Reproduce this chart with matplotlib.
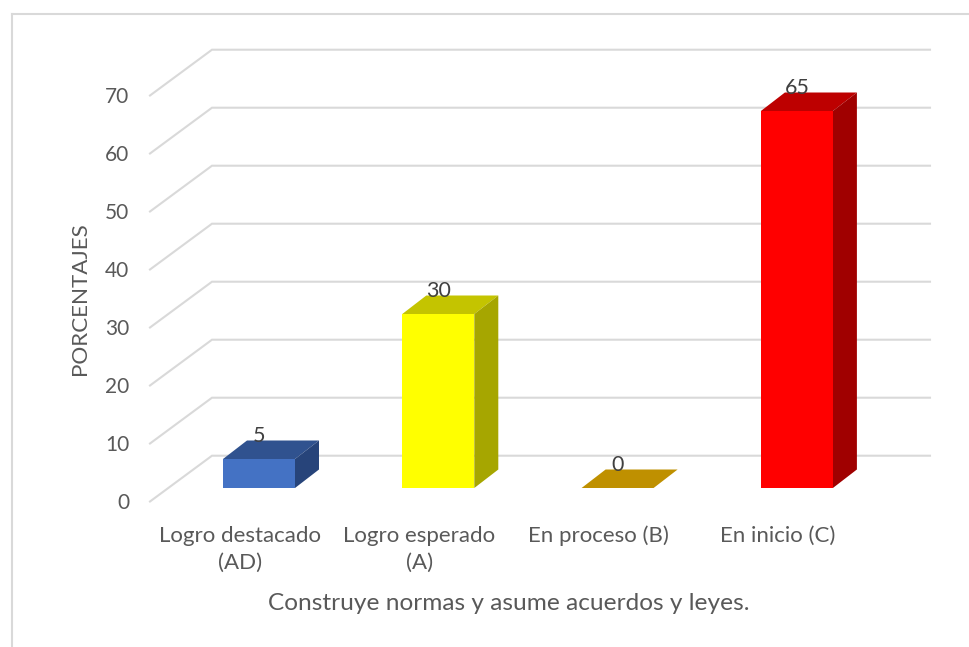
#!/usr/bin/env python3
# -*- coding: utf-8 -*-
import matplotlib
matplotlib.use('Agg')
import matplotlib.pyplot as plt
from matplotlib.lines import Line2D
from matplotlib.patches import Polygon

plt.rcParams['font.family'] = ['Lato', 'DejaVu Sans']

categories = ['Logro destacado\n(AD)', 'Logro esperado\n(A)', 'En proceso (B)', 'En inicio (C)']
values = [5, 30, 0, 65]
front_colors = ['#4472c4', '#ffff00', '#bf9000', '#ff0000']
top_colors = ['#30528f', '#c4c400', '#bf9000', '#bd0000']
side_colors = ['#27447a', '#a6a600', '#bf9000', '#a00000']
yticks = [0, 10, 20, 30, 40, 50, 60, 70]
xlabel = 'Construye normas y asume acuerdos y leyes.'
ylabel = 'PORCENTAJES'

W, H = 969, 647
x_step = 179.3   # px per category
y_step = 5.8     # px per percent
x0_px, y0_px = 259, 488

bar_w = 72 / x_step
dx = 24 / x_step
dy = 18.5 / y_step
text_col = '#595959'
grid_col = '#d9d9d9'

fig = plt.figure(figsize=(W / 100, H / 100), dpi=100)
ax = fig.add_axes([0, 0, 1, 1])
ax.set_xlim(-x0_px / x_step, (W - x0_px) / x_step)
ax.set_ylim(-(H - y0_px) / y_step, y0_px / y_step)
ax.axis('off')

# chart border, only left and top are in the crop
fig.add_artist(Line2D([11.5 / W, 11.5 / W], [0, 1 - 14 / H], color=grid_col, lw=1.5))
fig.add_artist(Line2D([11.5 / W, 1], [1 - 14 / H, 1 - 14 / H], color=grid_col, lw=1.5))

# back wall gridlines and the slanted bit on the side wall
wall_left = (212 - x0_px) / x_step
wall_right = (930 - x0_px) / x_step
front_left = (150 - x0_px) / x_step
back_off = (y0_px - 455.7) / y_step
front_off = (y0_px - 501.5) / y_step
for t in yticks:
    ax.plot([front_left, wall_left, wall_right], [t + front_off, t + back_off, t + back_off],
            color=grid_col, lw=1.5, zorder=1, solid_joinstyle='miter')
    ax.text(front_left - 0.115, t + front_off - 0.3, str(t), ha='right', va='center',
            fontsize=15, color=text_col)

for i, v in enumerate(values):
    l = i - bar_w / 2
    r = i + bar_w / 2
    ax.add_patch(Polygon([(l, v), (r, v), (r + dx, v + dy), (l + dx, v + dy)],
                         fc=top_colors[i], ec='none', zorder=3))
    if v > 0:
        ax.add_patch(Polygon([(r, 0), (r + dx, dy), (r + dx, v + dy), (r, v)],
                             fc=side_colors[i], ec='none', zorder=3))
        ax.add_patch(Polygon([(l, 0), (r, 0), (r, v), (l, v)],
                             fc=front_colors[i], ec='none', zorder=3))
    ax.text(i, v + 4.0, str(v), ha='center', va='center', fontsize=15.5,
            color='#404040', zorder=4)

    lines = categories[i].split('\n')
    for j, s in enumerate(lines):
        ax.text(i - 0.105, -8.2 - j * 4.7, s, ha='center', va='center',
                fontsize=16, color=text_col)

ax.text(1.395, -19.9, xlabel, ha='center', va='center', fontsize=17.6, color=text_col)
ax.text((80 - x0_px) / x_step, (y0_px - 299) / y_step, ylabel, rotation=90,
        ha='center', va='center', fontsize=16.1, color=text_col)

fig.savefig('out.png', dpi=100, facecolor='white')
